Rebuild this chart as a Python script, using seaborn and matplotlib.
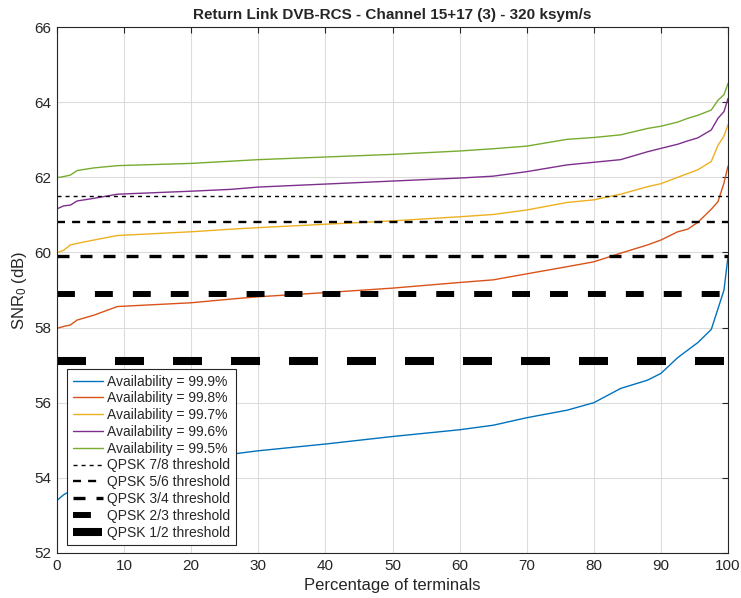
import numpy as np
import pandas as pd
import matplotlib
matplotlib.use("Agg")
import matplotlib.pyplot as plt
import seaborn as sns

# percentage of terminals (sorted) where values were read
pct = [0, 1, 2, 3, 5.5, 9, 20, 26, 30, 40, 50, 60, 65, 70, 76, 80,
       84, 88, 90, 92.5, 94, 95.5, 97.5, 98.5, 99.4, 100]

snr_999 = [53.40, 53.55, 53.65, 53.75, 53.95, 54.15, 54.45, 54.63, 54.72, 54.90,
           55.10, 55.28, 55.40, 55.60, 55.80, 56.00, 56.38, 56.60, 56.78, 57.20,
           57.40, 57.60, 57.95, 58.50, 59.00, 59.90]
snr_998 = [57.98, 58.03, 58.07, 58.20, 58.33, 58.56, 58.66, 58.76, 58.82, 58.93,
           59.05, 59.20, 59.27, 59.43, 59.62, 59.75, 59.98, 60.20, 60.33, 60.55,
           60.62, 60.80, 61.15, 61.35, 61.85, 62.30]
snr_997 = [59.99, 60.06, 60.20, 60.24, 60.33, 60.45, 60.55, 60.62, 60.66, 60.75,
           60.84, 60.95, 61.01, 61.13, 61.33, 61.40, 61.55, 61.75, 61.83, 62.00,
           62.10, 62.20, 62.42, 62.85, 63.10, 63.40]
snr_996 = [61.16, 61.24, 61.26, 61.37, 61.44, 61.55, 61.63, 61.68, 61.74, 61.82,
           61.90, 61.98, 62.03, 62.15, 62.33, 62.40, 62.47, 62.68, 62.77, 62.88,
           62.97, 63.05, 63.26, 63.57, 63.75, 64.10]
snr_995 = [61.99, 62.02, 62.06, 62.18, 62.25, 62.31, 62.37, 62.43, 62.47, 62.54,
           62.61, 62.70, 62.76, 62.83, 63.01, 63.06, 63.13, 63.30, 63.36, 63.47,
           63.57, 63.65, 63.79, 64.05, 64.20, 64.50]

availability = ["Availability = 99.9%", "Availability = 99.8%", "Availability = 99.7%",
                "Availability = 99.6%", "Availability = 99.5%"]

threshold_names = ["QPSK 7/8 threshold", "QPSK 5/6 threshold", "QPSK 3/4 threshold",
                   "QPSK 2/3 threshold", "QPSK 1/2 threshold"]
threshold_values = [61.5, 60.8, 59.9, 58.9, 57.1]

# matlab default colours
curve_colors = ["#0072BD", "#D95319", "#EDB120", "#7E2F8E", "#77AC30"]
# (linewidth, dash pattern in linewidth units)
threshold_styles = [(1.0, (2.9, 2.9)), (1.7, (3.4, 3.0)), (2.4, (3.6, 3.3)),
                    (4.3, (3.0, 3.35)), (5.8, (3.6, 3.6))]

df = pd.DataFrame({
    "pct": pct * 5,
    "snr": snr_999 + snr_998 + snr_997 + snr_996 + snr_995,
    "curve": np.repeat(availability, len(pct)),
})

sns.set_style("whitegrid")
plt.rcParams["font.family"] = ["Liberation Sans", "DejaVu Sans"]
plt.rcParams["mathtext.default"] = "regular"

fig = plt.figure(figsize=(7.41, 5.98), dpi=100)
ax = fig.add_axes([0.0769, 0.0753, 0.9056, 0.8795])

sns.lineplot(data=df, x="pct", y="snr", hue="curve", hue_order=availability,
             palette=curve_colors, linewidth=1.0, ax=ax, estimator=None, sort=False)

for name, val, (lw, dash) in zip(threshold_names, threshold_values, threshold_styles):
    ax.axhline(val, color="black", linewidth=lw, dashes=dash, label=name)

ax.set_xlim(0, 100)
ax.set_ylim(52, 66)
ax.set_xticks(np.arange(0, 101, 10))
ax.set_yticks(np.arange(52, 67, 2))

ax.grid(True, color="#dcdcdc", linewidth=0.8)
for s in ax.spines.values():
    s.set_color("#262626")
    s.set_linewidth(0.8)
ax.tick_params(direction="in", length=4, width=0.8, color="#262626",
               top=True, right=True, labelsize=11, labelcolor="#262626", pad=4)

ax.set_xlabel("Percentage of terminals", fontsize=12, color="#262626")
ax.set_ylabel("SNR$_0$ (dB)", fontsize=12, color="#262626")
ax.set_title("Return Link DVB-RCS - Channel 15+17 (3) - 320 ksym/s",
             fontsize=11, fontweight="bold", pad=6)

leg = ax.legend(loc="lower left", bbox_to_anchor=(0.015, 0.015), fontsize=10,
                frameon=True, fancybox=False, framealpha=1, edgecolor="#262626",
                handlelength=2.2, labelspacing=0.2, borderpad=0.4, handletextpad=0.3,
                borderaxespad=0)
leg.get_frame().set_linewidth(0.8)

fig.savefig("out.png", dpi=100)
